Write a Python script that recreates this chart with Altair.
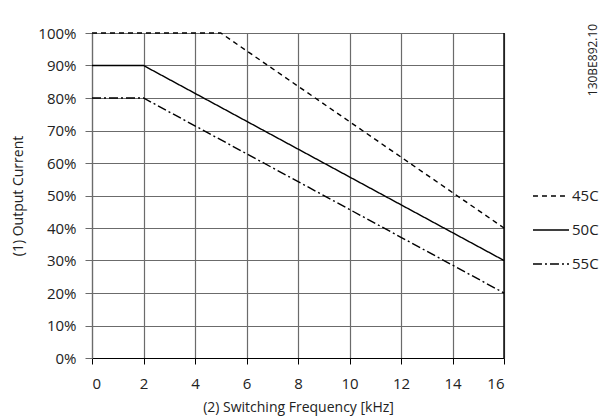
import altair as alt
import pandas as pd

series = ["45C", "50C", "55C"]
freq_45 = [0, 5, 16]
curr_45 = [100, 100, 40]
freq_50 = [0, 2, 16]
curr_50 = [90, 90, 30]
freq_55 = [0, 2, 16]
curr_55 = [80, 80, 20]
x_ticks = [0, 2, 4, 6, 8, 10, 12, 14, 16]
y_ticks = [0, 10, 20, 30, 40, 50, 60, 70, 80, 90, 100]

rows = []
for name, xs, ys in [("45C", freq_45, curr_45), ("50C", freq_50, curr_50), ("55C", freq_55, curr_55)]:
    for i, (a, b) in enumerate(zip(xs, ys)):
        rows.append({"series": name, "freq": a, "current": b, "order": i})
df = pd.DataFrame(rows)

FONT = "Open Sans"
GRID = "#6b6b6b"

x_scale = alt.Scale(domain=[0, 16], nice=False)
y_scale = alt.Scale(domain=[0, 100], nice=False)

lines = alt.Chart(df).mark_line(color="black", strokeWidth=1.4).encode(
    x=alt.X("freq:Q", scale=x_scale,
            axis=alt.Axis(values=x_ticks, title="(2) Switching Frequency [kHz]",
                          grid=True, gridColor=GRID, gridWidth=1.2,
                          domainColor="black", domainWidth=1.2,
                          tickColor="black", tickSize=6, labelPadding=12,
                          labelFontSize=15, labelFont=FONT, labelColor="#222",
                          titleFont=FONT, titleFontSize=14, titleFontWeight="normal",
                          titleColor="#222", titlePadding=9)),
    y=alt.Y("current:Q", scale=y_scale,
            axis=alt.Axis(values=y_ticks, format="d", labelExpr="datum.label + '%'",
                          title="(1) Output Current",
                          grid=True, gridColor=GRID, gridWidth=1.2,
                          domainColor=GRID, domainWidth=1.2,
                          tickColor=GRID, tickSize=7, labelPadding=9,
                          labelFontSize=15, labelFont=FONT, labelColor="#222",
                          titleFont=FONT, titleFontSize=14, titleFontWeight="normal",
                          titleColor="#222", titlePadding=12)),
    strokeDash=alt.StrokeDash("series:N",
        scale=alt.Scale(domain=series, range=[[5, 4], [1, 0], [9, 3, 2, 3]]),
        legend=alt.Legend(title=None, orient="none", legendX=440, legendY=144,
                          symbolType="stroke", symbolSize=1300, symbolStrokeColor="black",
                          symbolStrokeWidth=1.4, labelFontSize=15, labelFont=FONT,
                          labelColor="#222", labelOffset=2, rowPadding=7)),
    order="order:Q",
    detail="series:N",
)

border = alt.Chart(pd.DataFrame({"x": [16]})).mark_rule(color="black", strokeWidth=1.4).encode(
    x=alt.X("x:Q", scale=x_scale)
)

code = alt.Chart(pd.DataFrame({"t": ["130BE892.10"]})).mark_text(
    angle=270, font=FONT, fontSize=12, color="#222", align="center", baseline="middle"
).encode(text="t:N", x=alt.value(501), y=alt.value(27))

chart = alt.layer(lines, border, code).properties(
    width=412, height=325,
    autosize=alt.AutoSizeParams(type="none"),
    padding={"left": 84, "top": 25, "right": 96, "bottom": 58},
).configure_view(stroke=None)

chart.save("out.html", embed_options={"renderer": "svg", "actions": False})
